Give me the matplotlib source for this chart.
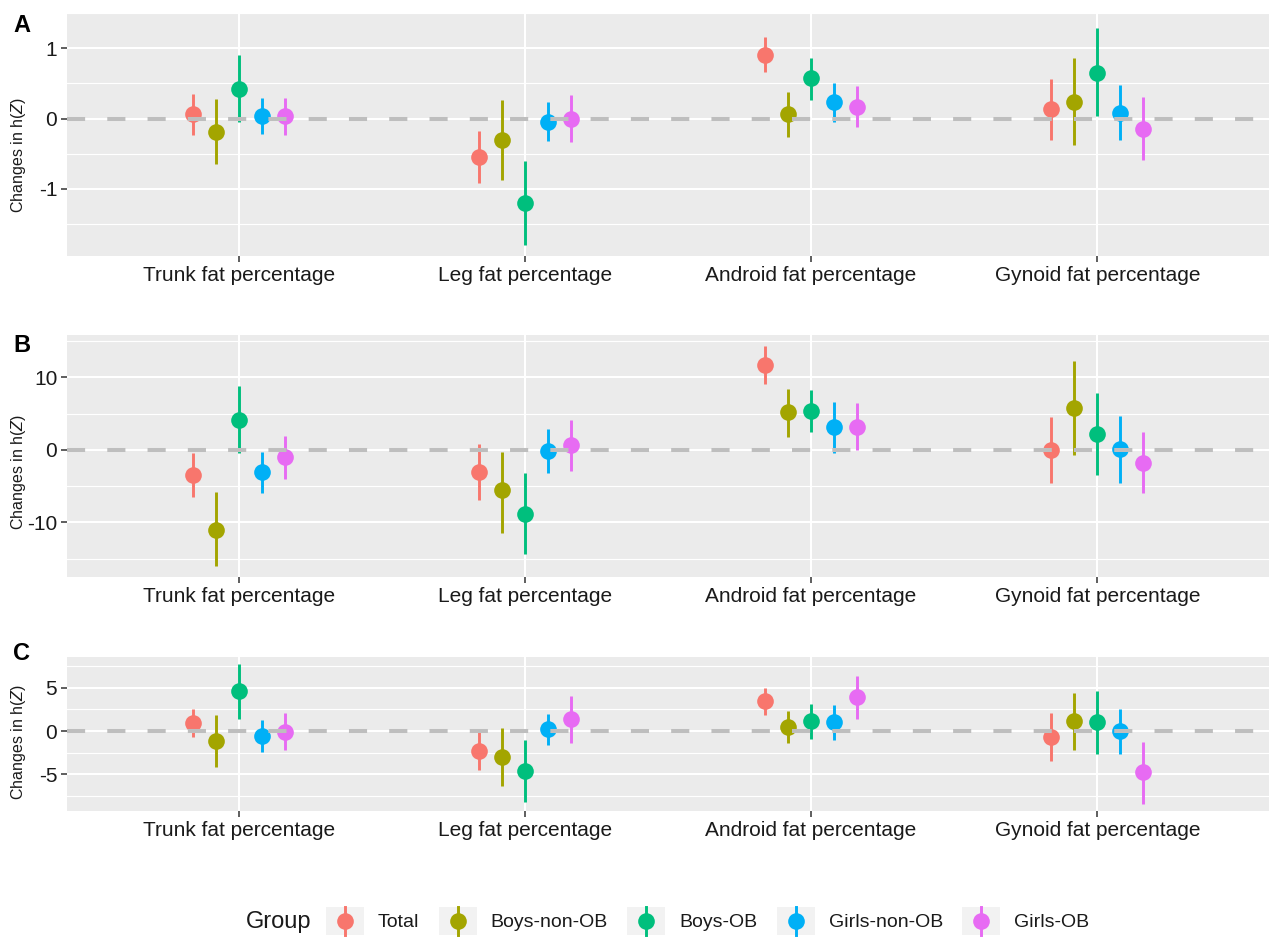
import matplotlib
matplotlib.use("Agg")
import matplotlib.pyplot as plt
from matplotlib.legend_handler import HandlerBase
from matplotlib.lines import Line2D
from matplotlib.patches import Rectangle
import numpy as np

plt.rcParams['font.family'] = ['Liberation Sans', 'DejaVu Sans']
plt.rcParams['mathtext.fontset'] = 'custom'
plt.rcParams['mathtext.it'] = 'Liberation Sans:italic'
plt.rcParams['mathtext.rm'] = 'Liberation Sans'

categories = ["Trunk fat percentage", "Leg fat percentage",
              "Android fat percentage", "Gynoid fat percentage"]
groups = ["Total", "Boys-non-OB", "Boys-OB", "Girls-non-OB", "Girls-OB"]
colors = ["#F8766D", "#A3A500", "#00BF7D", "#00B0F6", "#E76BF3"]

# rows = categories, columns = groups
est_a = [[0.06, -0.19, 0.42, 0.03, 0.03],
         [-0.55, -0.31, -1.20, -0.05, 0.00],
         [0.91, 0.06, 0.57, 0.23, 0.17],
         [0.13, 0.24, 0.64, 0.08, -0.15]]
lo_a = [[-0.23, -0.65, -0.05, -0.22, -0.24],
        [-0.91, -0.88, -1.80, -0.32, -0.34],
        [0.66, -0.26, 0.26, -0.05, -0.12],
        [-0.30, -0.38, 0.03, -0.31, -0.59]]
hi_a = [[0.35, 0.28, 0.90, 0.29, 0.29],
        [-0.18, 0.26, -0.61, 0.23, 0.34],
        [1.16, 0.37, 0.86, 0.51, 0.46],
        [0.56, 0.86, 1.29, 0.48, 0.30]]

est_b = [[-3.4, -11.0, 4.15, -3.05, -1.0],
         [-3.1, -5.6, -8.8, -0.1, 0.65],
         [11.7, 5.2, 5.4, 3.1, 3.2],
         [0.0, 5.8, 2.2, 0.15, -1.8]]
lo_b = [[-6.5, -16.0, -0.5, -5.9, -3.95],
        [-6.9, -11.5, -14.4, -3.2, -2.85],
        [9.1, 1.8, 2.4, -0.45, 0.0],
        [-4.6, -0.7, -3.45, -4.6, -5.95]]
hi_b = [[-0.4, -5.85, 8.75, -0.3, 1.9],
        [0.75, -0.3, -3.2, 2.9, 4.1],
        [14.3, 8.4, 8.3, 6.6, 6.45],
        [4.5, 12.2, 7.8, 4.7, 2.45]]

est_c = [[0.92, -1.15, 4.62, -0.53, -0.08],
         [-2.33, -2.98, -4.62, 0.23, 1.34],
         [3.44, 0.46, 1.10, 0.99, 3.93],
         [-0.69, 1.15, 1.07, -0.04, -4.77]]
lo_c = [[-0.69, -4.12, 1.41, -2.37, -2.18],
        [-4.54, -6.34, -8.20, -1.60, -1.37],
        [1.87, -1.34, -0.88, -0.99, 1.41],
        [-3.44, -2.21, -2.60, -2.63, -8.40]]
hi_c = [[2.56, 1.87, 7.71, 1.30, 2.10],
        [-0.11, 0.38, -1.07, 1.98, 4.08],
        [4.96, 2.25, 3.05, 2.98, 6.37],
        [2.10, 4.43, 4.58, 2.52, -1.22]]

panels = [
    ("A", est_a, lo_a, hi_a, [-1, 0, 1], [-1.5, -0.5, 0.5, 1.5]),
    ("B", est_b, lo_b, hi_b, [-10, 0, 10], [-15, -5, 5, 15]),
    ("C", est_c, lo_c, hi_c, [-5, 0, 5], [-7.5, -2.5, 2.5, 7.5]),
]

W, H = 1271, 939
fig = plt.figure(figsize=(W / 100, H / 100), dpi=100)

# panel boxes in pixels: (top, bottom), plus letter and y-label centres
boxes = [(13, 256), (335, 577), (657, 811)]
letter_y = [25, 346, 654]
ylab_y = [155, 472, 742]
left_px, right_px = 67, 1269

text_col = "#1a1a1a"
dodge = 0.08

for (label, est, lo, hi, major, minor), (top, bot), ly, yl in zip(panels, boxes, letter_y, ylab_y):
    ax = fig.add_axes([left_px / W, 1 - bot / H, (right_px - left_px) / W, (bot - top) / H])
    ax.set_facecolor("#EBEBEB")
    est = np.array(est); lo = np.array(lo); hi = np.array(hi)
    x = np.arange(len(categories))
    for g, (name, col) in enumerate(zip(groups, colors)):
        xp = x + (g - 2) * dodge
        ax.vlines(xp, lo[:, g], hi[:, g], color=col, lw=2.1, zorder=3)
        ax.plot(xp, est[:, g], 'o', color=col, ms=12, mec='none', zorder=4)
    ax.axhline(0, color="#BEBEBE", lw=2.9, ls=(0, (4.5, 5.5)), zorder=5)

    dmin, dmax = lo.min(), hi.max()
    pad = 0.05 * (dmax - dmin)
    ax.set_ylim(dmin - pad, dmax + pad)
    ax.set_xlim(-0.6, len(categories) - 0.4)
    ax.set_xticks(x)
    ax.set_xticklabels(categories)
    ax.set_yticks(major)
    ax.set_yticklabels([str(v) for v in major])
    ax.set_yticks(minor, minor=True)
    ax.grid(which='major', color='white', lw=1.5, zorder=1)
    ax.grid(which='minor', axis='y', color='white', lw=0.8, zorder=1)
    ax.set_axisbelow(True)
    for s in ax.spines.values():
        s.set_visible(False)
    ax.tick_params(which='major', length=4, width=1.1, color="#333333",
                   labelsize=15, labelcolor=text_col, pad=3)
    ax.tick_params(which='minor', length=0)
    ax.set_ylabel("Changes in h($\\mathit{Z}$)", fontsize=11.5, color=text_col)
    ax.yaxis.set_label_coords(-(left_px - 28) / (right_px - left_px),
                              1 - (yl - top) / (bot - top))
    fig.text(13 / W, 1 - ly / H, label, fontsize=17, fontweight='bold', va='center', ha='left')


class PointRangeHandler(HandlerBase):
    def create_artists(self, legend, orig_handle, xdescent, ydescent,
                       width, height, fontsize, trans):
        col = orig_handle.get_color()
        bg = Rectangle((-xdescent, -ydescent), width, height, fc="#F2F2F2",
                       ec='none', transform=trans)
        cx = -xdescent + width / 2
        line = Line2D([cx, cx], [-ydescent, -ydescent + height], color=col,
                      lw=2.1, transform=trans)
        dot = Line2D([cx], [-ydescent + height / 2], marker='o', ms=12,
                     mec='none', color=col, ls='none', transform=trans)
        return [bg, line, dot]


handles = [Line2D([], [], color=c) for c in colors]
leg = fig.legend(handles, groups, loc='center left',
                 bbox_to_anchor=(326 / W, 1 - 921 / H), ncol=5, frameon=False,
                 fontsize=14, handlelength=1.95, handleheight=1.85,
                 handletextpad=0.72, columnspacing=1.0, borderpad=0,
                 borderaxespad=0,
                 handler_map={Line2D: PointRangeHandler()})
for t in leg.get_texts():
    t.set_color(text_col)
fig.text(246 / W, 1 - 922 / H, "Group", fontsize=17, va='center', ha='left', color=text_col)

fig.savefig("out.png", dpi=100)
